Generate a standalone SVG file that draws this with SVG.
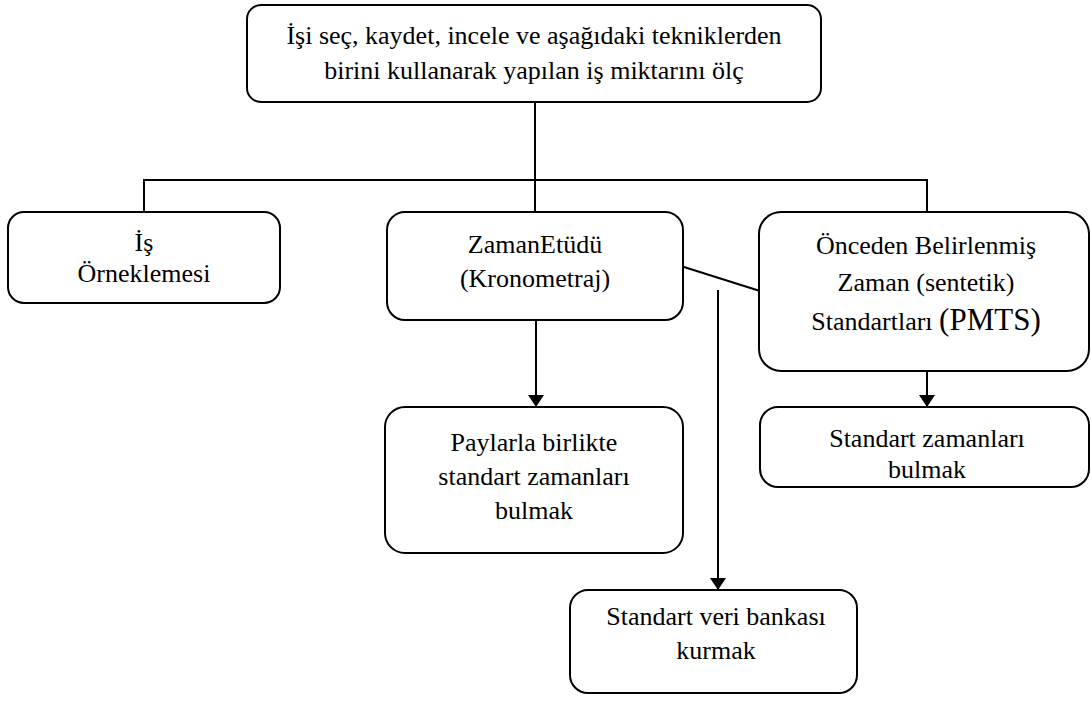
<svg xmlns="http://www.w3.org/2000/svg" width="1091" height="704" viewBox="0 0 1091 704">
  <style>
    .box { fill: #ffffff; stroke: #000000; stroke-width: 2; }
    .line { fill: none; stroke: #000000; stroke-width: 2; }
    .lbl { font-family: "Liberation Serif", "Times New Roman", serif; font-size: 26px; fill: #000000; text-anchor: middle; }
    .big { font-size: 31px; }
  </style>
  <defs>
    <marker id="arrow" viewBox="0 0 12 16" refX="12" refY="8" markerWidth="12" markerHeight="16" markerUnits="userSpaceOnUse" orient="auto">
      <path d="M0,0 L12,8 L0,16 Z" fill="#000000"/>
    </marker>
  </defs>
  <rect width="1091" height="704" fill="#ffffff"/>

  <!-- connectors -->
  <g id="connectors">
    <path class="line" d="M535,102 V180"/>
    <path class="line" d="M144,212 V180 H927 V212"/>
    <path class="line" d="M535,180 V212"/>
    <path class="line" d="M684,267 L760,291"/>
    <path class="line" d="M536,320 V407" marker-end="url(#arrow)"/>
    <path class="line" d="M927,371 V407" marker-end="url(#arrow)"/>
    <path class="line" d="M718,290 V590" marker-end="url(#arrow)"/>
  </g>

  <!-- top: measure work content -->
  <g id="node-olcum">
    <rect class="box" x="247" y="5" width="574" height="97" rx="14"/>
    <text class="lbl" x="534" y="44">İşi seç, kaydet, incele ve aşağıdaki tekniklerden</text>
    <text class="lbl" x="534" y="79">birini kullanarak yapılan iş miktarını ölç</text>
  </g>

  <g id="node-is-orneklemesi">
    <rect class="box" x="8" y="212" width="272" height="91" rx="16"/>
    <text class="lbl" x="144" y="251">İş</text>
    <text class="lbl" x="144" y="282">Örneklemesi</text>
  </g>

  <g id="node-zaman-etudu">
    <rect class="box" x="387" y="212" width="296" height="108" rx="18"/>
    <text class="lbl" x="535" y="253">ZamanEtüdü</text>
    <text class="lbl" x="535" y="287">(Kronometraj)</text>
  </g>

  <g id="node-pmts">
    <rect class="box" x="759" y="212" width="330" height="159" rx="22"/>
    <text class="lbl" x="926" y="254">Önceden Belirlenmiş</text>
    <text class="lbl" x="926" y="291">Zaman (sentetik)</text>
    <text class="lbl" x="926" y="330">Standartları <tspan class="big">(PMTS)</tspan></text>
  </g>

  <g id="node-paylarla">
    <rect class="box" x="385" y="407" width="298" height="146" rx="20"/>
    <text class="lbl" x="534" y="451">Paylarla birlikte</text>
    <text class="lbl" x="534" y="485">standart zamanları</text>
    <text class="lbl" x="534" y="519">bulmak</text>
  </g>

  <g id="node-standart-zaman">
    <rect class="box" x="760" y="407" width="329" height="80" rx="18"/>
    <text class="lbl" x="927" y="447">Standart zamanları</text>
    <text class="lbl" x="927" y="478">bulmak</text>
  </g>

  <g id="node-veri-bankasi">
    <rect class="box" x="570" y="590" width="287" height="103" rx="18"/>
    <text class="lbl" x="716" y="625">Standart veri bankası</text>
    <text class="lbl" x="716" y="659">kurmak</text>
  </g>
</svg>
